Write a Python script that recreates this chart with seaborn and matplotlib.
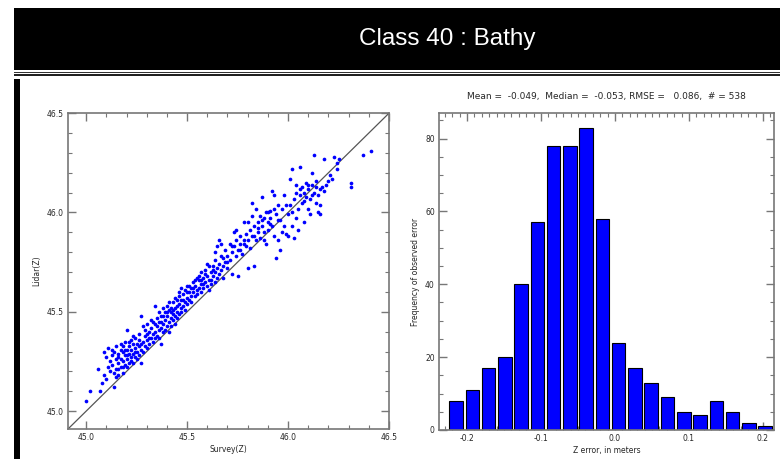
import matplotlib
matplotlib.use("Agg")
import matplotlib.pyplot as plt
from matplotlib.patches import Rectangle
from matplotlib.ticker import MultipleLocator
import seaborn as sns

# scatter: survey elevation vs lidar elevation
survey = [45.00, 45.02, 45.07, 45.06, 45.09, 45.10, 45.08, 45.11, 45.10, 45.09, 45.11,
          45.12, 45.12, 45.13, 45.13, 45.14, 45.14, 45.15, 45.15, 45.15, 45.16, 45.16, 45.16,
          45.16, 45.17, 45.17, 45.17, 45.18, 45.18, 45.18, 45.18, 45.19, 45.19, 45.19, 45.20,
          45.20, 45.20, 45.20, 45.21, 45.21, 45.21, 45.22, 45.22, 45.22, 45.23, 45.23, 45.23,
          45.24, 45.24, 45.24, 45.25, 45.25, 45.26, 45.26, 45.26, 45.27, 45.27, 45.27, 45.28,
          45.28, 45.28, 45.29, 45.29, 45.30, 45.30, 45.30, 45.31, 45.31, 45.32, 45.32, 45.32,
          45.33, 45.33, 45.34, 45.34, 45.34, 45.35, 45.35, 45.35, 45.36, 45.36, 45.36, 45.37,
          45.37, 45.37, 45.38, 45.38, 45.38, 45.39, 45.39, 45.39, 45.40, 45.40, 45.40, 45.41,
          45.41, 45.41, 45.42, 45.42, 45.42, 45.43, 45.43, 45.43, 45.44, 45.44, 45.44, 45.45,
          45.45, 45.45, 45.46, 45.46, 45.46, 45.47, 45.47, 45.47, 45.48, 45.48, 45.49, 45.49,
          45.49, 45.50, 45.50, 45.50, 45.51, 45.51, 45.52, 45.52, 45.53, 45.53, 45.54, 45.54,
          45.55, 45.55, 45.55, 45.56, 45.56, 45.57, 45.57, 45.57, 45.58, 45.58, 45.59, 45.59,
          45.60, 45.60, 45.60, 45.61, 45.61, 45.62, 45.62, 45.63, 45.63, 45.64, 45.64, 45.64,
          45.65, 45.65, 45.65, 45.66, 45.66, 45.67, 45.67, 45.68, 45.68, 45.69, 45.69, 45.70,
          45.70, 45.71, 45.71, 45.72, 45.72, 45.73, 45.73, 45.74, 45.74, 45.75, 45.75, 45.76,
          45.76, 45.77, 45.78, 45.78, 45.79, 45.79, 45.80, 45.80, 45.81, 45.81, 45.82, 45.82,
          45.82, 45.83, 45.83, 45.84, 45.84, 45.85, 45.85, 45.86, 45.86, 45.87, 45.87, 45.88,
          45.88, 45.89, 45.89, 45.90, 45.90, 45.91, 45.91, 45.92, 45.92, 45.93, 45.93, 45.94,
          45.94, 45.95, 45.95, 45.96, 45.96, 45.97, 45.98, 45.98, 45.99, 46.00, 46.00, 46.01,
          46.01, 46.02, 46.02, 46.03, 46.03, 46.04, 46.04, 46.05, 46.05, 46.06, 46.06, 46.07,
          46.07, 46.08, 46.08, 46.09, 46.09, 46.10, 46.10, 46.11, 46.11, 46.12, 46.12, 46.13,
          46.13, 46.14, 46.14, 46.15, 46.15, 46.16, 46.16, 46.17, 46.18, 46.18, 46.20, 46.22,
          46.23, 46.24, 46.25, 46.24, 46.31, 46.31, 46.37, 46.41,
          45.13, 45.14, 45.15, 45.16, 45.17, 45.18, 45.19, 45.20, 45.21, 45.22, 45.23, 45.24,
          45.25, 45.26, 45.27, 45.29, 45.30, 45.31, 45.33, 45.34, 45.36, 45.37, 45.38, 45.40,
          45.41, 45.42, 45.43, 45.44, 45.45, 45.46, 45.47, 45.48, 45.50, 45.51, 45.52, 45.53,
          45.54, 45.56, 45.57, 45.58, 45.59, 45.61, 45.62, 45.63, 45.64, 45.66, 45.67, 45.68,
          45.70, 45.72, 45.74, 45.76, 45.78, 45.80, 45.83, 45.85, 45.87, 45.88, 45.90, 45.91,
          45.93, 45.95, 45.97, 45.99, 46.02, 46.04, 46.06, 46.08, 46.10, 46.12, 46.14, 46.16,
          46.19, 46.21]
lidar = [45.05, 45.10, 45.10, 45.21, 45.30, 45.16, 45.14, 45.32, 45.27, 45.18, 45.22,
         45.25, 45.20, 45.23, 45.28, 45.12, 45.30, 45.17, 45.26, 45.33, 45.18, 45.21, 45.24,
         45.29, 45.34, 45.22, 45.26, 45.30, 45.19, 45.25, 45.33, 45.23, 45.28, 45.35, 45.41,
         45.26, 45.31, 45.22, 45.29, 45.24, 45.33, 45.27, 45.36, 45.31, 45.24, 45.29, 45.34,
         45.32, 45.27, 45.37, 45.30, 45.34, 45.28, 45.33, 45.39, 45.24, 45.31, 45.48, 45.35,
         45.30, 45.43, 45.33, 45.38, 45.36, 45.32, 45.44, 45.40, 45.34, 45.37, 45.42, 45.46,
         45.39, 45.35, 45.44, 45.53, 45.40, 45.38, 45.47, 45.43, 45.41, 45.37, 45.50, 45.45,
         45.34, 45.42, 45.48, 45.44, 45.52, 45.41, 45.46, 45.50, 45.43, 45.48, 45.53, 45.45,
         45.51, 45.40, 45.47, 45.50, 45.43, 45.49, 45.55, 45.46, 45.52, 45.48, 45.44, 45.50,
         45.56, 45.53, 45.49, 45.54, 45.58, 45.52, 45.62, 45.56, 45.53, 45.59, 45.55, 45.61,
         45.51, 45.57, 45.63, 45.54, 45.60, 45.56, 45.62, 45.58, 45.60, 45.65, 45.58, 45.63,
         45.61, 45.67, 45.59, 45.62, 45.66, 45.64, 45.60, 45.70, 45.67, 45.62, 45.65, 45.71,
         45.63, 45.68, 45.74, 45.66, 45.61, 45.70, 45.66, 45.73, 45.68, 45.65, 45.76, 45.70,
         45.72, 45.83, 45.67, 45.86, 45.74, 45.71, 45.78, 45.73, 45.67, 45.81, 45.75, 45.78,
         45.72, 45.84, 45.76, 45.69, 45.80, 45.90, 45.83, 45.78, 45.86, 45.81, 45.68, 45.84,
         45.88, 45.79, 45.86, 45.95, 45.83, 45.89, 45.86, 45.72, 45.91, 45.82, 45.88, 46.05,
         45.98, 45.93, 45.73, 45.86, 46.02, 45.90, 45.95, 45.87, 45.98, 45.93, 46.08, 45.90,
         45.97, 45.84, 46.00, 45.95, 45.91, 46.01, 45.97, 45.93, 46.11, 46.02, 45.88, 45.99,
         45.77, 46.04, 45.86, 45.96, 45.81, 46.02, 45.93, 46.09, 45.89, 45.99, 45.88, 46.17,
         46.04, 45.93, 46.22, 46.07, 45.87, 46.10, 45.97, 46.02, 45.91, 46.23, 46.09, 46.13,
         46.05, 46.10, 45.95, 46.15, 46.08, 46.02, 46.12, 46.07, 45.99, 46.14, 46.20, 46.10,
         46.29, 46.05, 46.13, 46.00, 46.09, 46.04, 45.99, 46.13, 46.27, 46.11, 46.16, 46.17,
         46.28, 46.22, 46.27, 46.25, 46.15, 46.13, 46.29, 46.31,
         45.31, 45.19, 45.21, 45.27, 45.31, 45.22, 45.31, 45.28, 45.35, 45.25, 45.38, 45.30,
         45.26, 45.36, 45.34, 45.41, 45.39, 45.37, 45.45, 45.37, 45.45, 45.48, 45.40, 45.50,
         45.55, 45.52, 45.51, 45.57, 45.47, 45.60, 45.50, 45.56, 45.60, 45.63, 45.55, 45.62,
         45.66, 45.68, 45.66, 45.64, 45.69, 45.73, 45.64, 45.71, 45.80, 45.69, 45.84, 45.77,
         45.75, 45.83, 45.91, 45.81, 45.84, 45.95, 45.88, 45.92, 45.96, 45.86, 46.00, 45.94,
         46.09, 45.96, 45.90, 46.04, 46.00, 46.14, 46.12, 46.06, 46.14, 46.09, 46.16, 46.12,
         46.14, 46.19]

# histogram of z error
error_bins = [-0.215, -0.193, -0.171, -0.149, -0.127, -0.105, -0.083, -0.061, -0.039, -0.017,
              0.005, 0.027, 0.049, 0.071, 0.093, 0.115, 0.137, 0.159, 0.181, 0.203]
error_counts = [8, 11, 17, 20, 40, 57, 78, 78, 83, 58, 24, 17, 13, 9, 5, 4, 8, 5, 2, 1]
stats_text = "Mean =  -0.049,  Median =  -0.053, RMSE =   0.086,  # = 538"

sns.set_style("ticks")
plt.rcParams['font.family'] = ['DejaVu Sans']

fig = plt.figure(figsize=(7.8, 4.59), dpi=100)

# header band and frame lines
fig.patches.append(Rectangle((0.018, 0.847), 0.982, 0.136, transform=fig.transFigure,
                             facecolor='black', edgecolor='none', zorder=0))
fig.patches.append(Rectangle((0.018, 0.841), 0.982, 0.003, transform=fig.transFigure,
                             facecolor='#333333', edgecolor='none', zorder=0))
fig.patches.append(Rectangle((0.018, 0.834), 0.982, 0.004, transform=fig.transFigure,
                             facecolor='#222222', edgecolor='none', zorder=0))
fig.patches.append(Rectangle((0.018, 0.0), 0.008, 0.828, transform=fig.transFigure,
                             facecolor='black', edgecolor='none', zorder=0))
fig.text(0.573, 0.915, "Class 40 : Bathy", color='white', fontsize=17.5,
         family='Liberation Sans', ha='center', va='center')

axcol = '#777777'


def style_axes(ax):
    for s in ax.spines.values():
        s.set_visible(True)
        s.set_color(axcol)
        s.set_linewidth(1.2)
    ax.tick_params(which='both', direction='in', top=True, right=True,
                   color=axcol, labelsize=5.5, pad=3)
    ax.tick_params(which='major', length=6, width=1.0)
    ax.tick_params(which='minor', length=3, width=0.8)


# left: scatter
ax1 = fig.add_axes([0.0872, 0.0654, 0.4115, 0.688])
lo, hi = 44.91, 46.5
ax1.plot([lo, hi], [lo, hi], color='#555555', linewidth=0.9, zorder=1)
sns.scatterplot(x=survey, y=lidar, ax=ax1, color='blue', s=7, linewidth=0, zorder=2)
ax1.set_xlim(lo, hi)
ax1.set_ylim(lo, hi)
ax1.xaxis.set_major_locator(MultipleLocator(0.5))
ax1.xaxis.set_minor_locator(MultipleLocator(0.1))
ax1.yaxis.set_major_locator(MultipleLocator(0.5))
ax1.yaxis.set_minor_locator(MultipleLocator(0.1))
ax1.xaxis.set_major_formatter(lambda v, p: f"{v:.1f}")
ax1.yaxis.set_major_formatter(lambda v, p: f"{v:.1f}")
ax1.set_xlabel("Survey(Z)", fontsize=5.5, labelpad=2)
ax1.set_ylabel("Lidar(Z)", fontsize=5.5, labelpad=4)
style_axes(ax1)

# right: histogram
ax2 = fig.add_axes([0.5628, 0.0632, 0.4295, 0.6906])
sns.histplot(x=error_bins, weights=error_counts, binwidth=0.022, binrange=(-0.226, 0.214),
             shrink=0.83, color='blue', edgecolor='black', linewidth=0.8, alpha=1, ax=ax2)
ax2.set_xlim(-0.238, 0.215)
ax2.set_ylim(0, 87)
ax2.xaxis.set_major_locator(MultipleLocator(0.1))
ax2.xaxis.set_minor_locator(MultipleLocator(0.01))
ax2.yaxis.set_major_locator(MultipleLocator(20))
ax2.yaxis.set_minor_locator(MultipleLocator(5))
ax2.xaxis.set_major_formatter(lambda v, p: f"{v:.1f}")
ax2.set_xlabel("Z error, in meters", fontsize=5.5, labelpad=2)
ax2.set_ylabel("Frequency of observed error", fontsize=5.5, labelpad=4)
ax2.set_title(stats_text, fontsize=6.5, pad=10)
style_axes(ax2)

fig.savefig("out.png", dpi=100)
